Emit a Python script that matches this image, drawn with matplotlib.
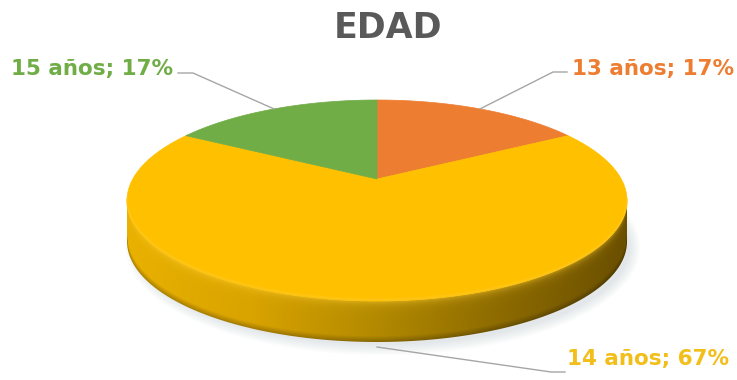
import numpy as np
import matplotlib.pyplot as plt
from matplotlib.patches import Polygon, Ellipse
from matplotlib.colors import to_rgb

# data
categories = ['13 años', '14 años', '15 años']
values = [1, 4, 1]
colors = ['#ED7D31', '#FFC000', '#70AD47']
label_colors = ['#ED7D31', '#F2BE1A', '#70AD47']
title = 'EDAD'

# geometry of the 3d disc (pixels)
cx, cy = 377, 200.5
a, b = 250, 100.5
depth = 41
vy = 179
d = (cy - vy) / b
ch = 1 / np.sqrt(1 - d * d)
sh = d * ch


def project(theta_deg):
    # perspective-ish view of a point on the rim (angle in degrees, ccw from right)
    th = np.radians(theta_deg)
    w = sh * np.sin(th) + ch
    u = np.cos(th) / w
    v = (ch * np.sin(th) + sh) / w
    return cx + a * u, cy - b * v


fig = plt.figure(figsize=(7.37, 3.8), dpi=100)
ax = fig.add_axes([0, 0, 1, 1])

# soft shadow
for k in range(6):
    ax.add_patch(Ellipse((cx + 6, cy + depth + 6), 2 * a + 14 - 4 * k, 2 * b + 14 - 4 * k,
                         color='#8090a0', alpha=0.035, lw=0, zorder=1))

# side of the disc with gradient
t = np.linspace(0, np.pi, 300)
arc_x = cx + a * np.cos(t)
arc_y = cy + b * np.sin(t)
side_pts = np.column_stack([np.r_[arc_x, arc_x[::-1]], np.r_[arc_y, arc_y[::-1] + depth]])
side = Polygon(side_pts, closed=True, facecolor='none', edgecolor='none', zorder=2)
ax.add_patch(side)

x0, x1, y0, y1 = cx - a - 2, cx + a + 2, cy - 2, cy + b + depth + 2
gx = np.linspace(x0, x1, 520)
gy = np.linspace(y0, y1, 260)
GX, GY = np.meshgrid(gx, gy)
stops_x = [cx - a, cx - a / 2, cx, cx + a / 2, cx + a]
stops_c = np.array([to_rgb(c) for c in ['#E9B100', '#D9A300', '#B28900', '#8C6A00', '#6A4F00']])
base = np.stack([np.interp(GX, stops_x, stops_c[:, i]) for i in range(3)], axis=-1)
top_y = cy + b * np.sqrt(np.clip(1 - ((GX - cx) / a) ** 2, 0, 1))
s = GY - top_y
hl = np.exp(-np.clip(s, 0, None) / 4.0)[..., None] * 0.55
img = base * (1 - hl) + np.array(to_rgb('#FFCE2E')) * hl
dark = np.clip((s - (depth - 6)) / 6.0, 0, 1)[..., None] * 0.25
img = img * (1 - dark)
im = ax.imshow(img, extent=(x0, x1, y1, y0), aspect='auto', zorder=2, interpolation='bilinear')
im.set_clip_path(side)

# top face
total = sum(values)
start = 90.0
mids = []
for val, col in zip(values, colors):
    span = 360.0 * val / total
    th = np.linspace(start, start - span, 240)
    xs, ys = project(th)
    pts = np.column_stack([np.r_[cx, xs], np.r_[vy, ys]])
    ax.add_patch(Polygon(pts, closed=True, facecolor=col, edgecolor=col, lw=0.5, zorder=3))
    mids.append(start - span / 2)
    start -= span

# front rim highlight on the top face
ax.plot(arc_x, arc_y - 1.5, color='#FFC81F', lw=1.5, alpha=0.6, zorder=4)

# labels with leader lines
label_pos = [(572, 69, 553, 567, 72), (567, 359, 551, 565, 372), (11, 69, 193, 178, 73)]
for i, (cat, val) in enumerate(zip(categories, values)):
    tx, ty, ex, hx, ly = label_pos[i]
    mx, my = project(mids[i])
    if i == 1:
        my = my + depth + 5
    ax.plot([mx, ex, hx], [my, ly, ly], color='#A6A6A6', lw=1, zorder=5)
    ax.text(tx, ty, f'{cat}; {round(100 * val / total)}%', ha='left', va='center',
            fontsize=15.5, fontweight='bold', color=label_colors[i], zorder=6)

ax.text(388, 28, title, ha='center', va='center', fontsize=25, fontweight='bold', color='#595959')

ax.set_xlim(0, 737)
ax.set_ylim(380, 0)
ax.axis('off')
fig.savefig('out.png', dpi=100)
